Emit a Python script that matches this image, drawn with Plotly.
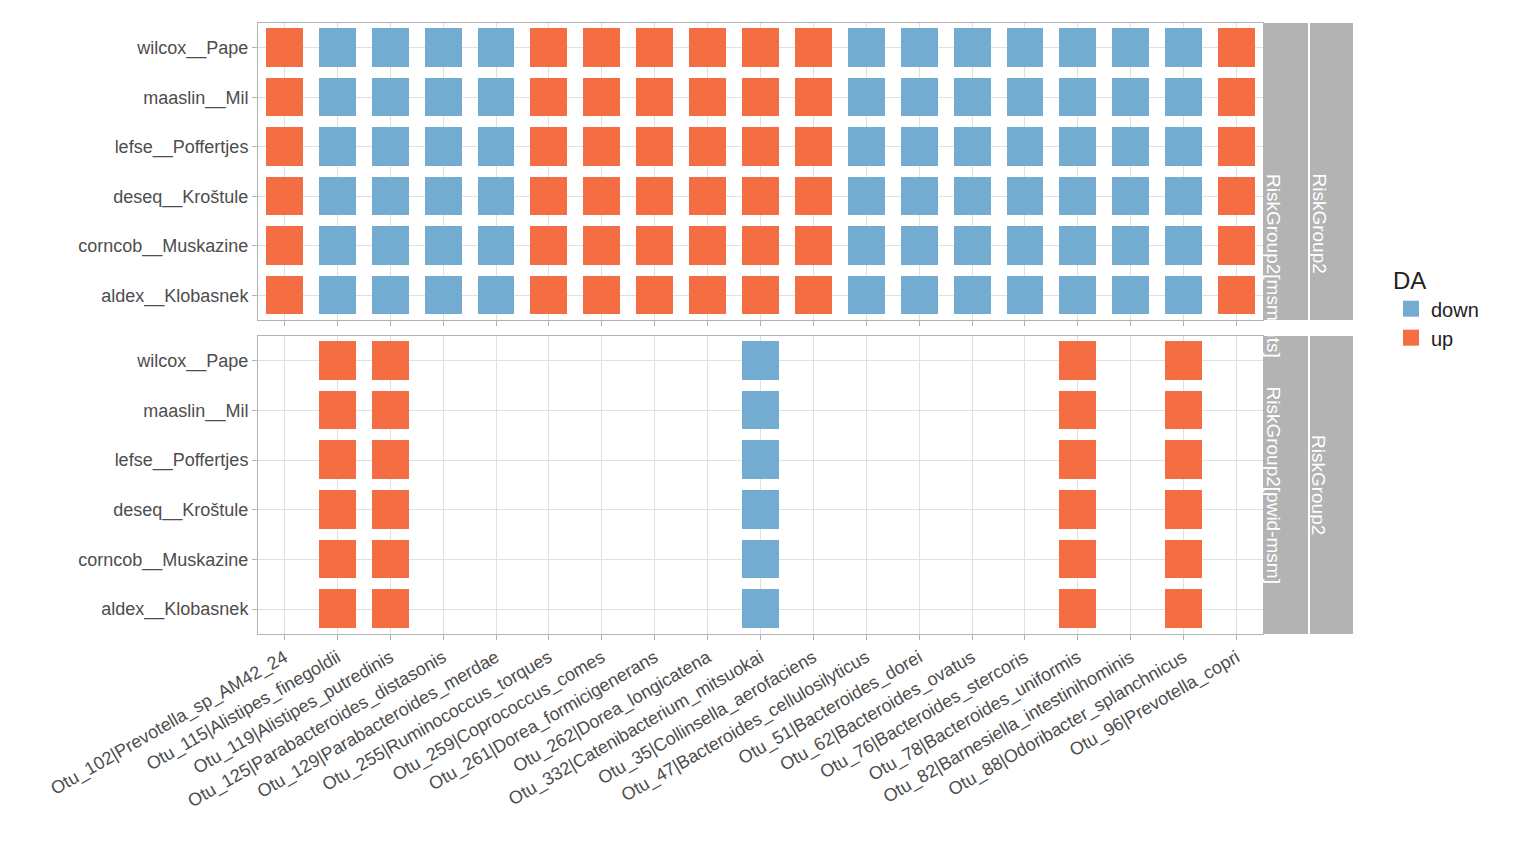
import plotly.graph_objects as go
from plotly.subplots import make_subplots

taxa = ["Otu_102|Prevotella_sp_AM42_24","Otu_115|Alistipes_finegoldii","Otu_119|Alistipes_putredinis",
"Otu_125|Parabacteroides_distasonis","Otu_129|Parabacteroides_merdae","Otu_255|Ruminococcus_torques",
"Otu_259|Coprococcus_comes","Otu_261|Dorea_formicigenerans","Otu_262|Dorea_longicatena",
"Otu_332|Catenibacterium_mitsuokai","Otu_35|Collinsella_aerofaciens","Otu_47|Bacteroides_cellulosilyticus",
"Otu_51|Bacteroides_dorei","Otu_62|Bacteroides_ovatus","Otu_76|Bacteroides_stercoris",
"Otu_78|Bacteroides_uniformis","Otu_82|Barnesiella_intestinihominis","Otu_88|Odoribacter_splanchnicus",
"Otu_96|Prevotella_copri"]
methods = ["aldex__Klobasnek","corncob__Muskazine","deseq__Kroštule","lefse__Poffertjes","maaslin__Mil","wilcox__Pape"]
top_da = ["up","down","down","down","down","up","up","up","up","up","up","down","down","down","down","down","down","down","up"]
bot_da = [None,"up","up",None,None,None,None,None,None,"down",None,None,None,None,None,"up",None,"up",None]
panels = ["RiskGroup2[msm-hts]","RiskGroup2[pwid-msm]"]
C_DOWN, C_UP = "#74ABD1", "#F46D43"

def zrow(da):
    return [None if d is None else (1 if d=="up" else 0) for d in da]

fig = make_subplots(rows=2, cols=1, shared_xaxes=True)
for r, da in enumerate([top_da, bot_da], start=1):
    fig.add_trace(go.Heatmap(x=taxa, y=methods, z=[zrow(da) for _ in methods],
        colorscale=[[0,C_DOWN],[0.5,C_DOWN],[0.5,C_UP],[1,C_UP]], zmin=0, zmax=1,
        showscale=False, xgap=16, ygap=11, hoverongaps=False), row=r, col=1)
for name, c in [("down",C_DOWN),("up",C_UP)]:
    fig.add_trace(go.Scatter(x=[None], y=[None], mode="markers", name=name,
        marker=dict(symbol="square", size=44, color=c)), row=1, col=1)

W, H = 1536, 865
x0, x1 = 250/W, 1255/W
dom = [(1-312/H, 1-15/H), (1-626/H, 1-328/H)]
ax = dict(showgrid=True, gridcolor="#e0e0e0", showline=True, mirror=True, linecolor="#b3b3b3",
          linewidth=1, ticks="outside", tickcolor="#b3b3b3", ticklen=5, automargin=False,
          tickfont=dict(size=18, color="#4d4d4d"), zeroline=False)
fig.update_layout(
    width=W, height=H, margin=dict(l=0,r=0,t=0,b=0, autoexpand=False), plot_bgcolor="white", paper_bgcolor="white",
    font=dict(family="Liberation Sans, Arial", color="#4d4d4d"),
    xaxis=dict(domain=[x0,x1], showticklabels=False, **ax),
    xaxis2=dict(domain=[x0,x1], tickangle=-30, **ax),
    yaxis=dict(domain=list(dom[0]), **ax),
    yaxis2=dict(domain=list(dom[1]), **ax),
    legend=dict(x=1383/W, y=1-250/H, xanchor="left", yanchor="top",
        title=dict(text="DA", font=dict(size=24, color="#222")), font=dict(size=20, color="#222"),
        itemsizing="trace", tracegroupgap=0),
)
for i, p in enumerate(panels):
    ylo, yhi = dom[i]
    for (a, b, txt) in [(1256/W, 1300/W, p), (1302/W, 1345/W, "RiskGroup2")]:
        fig.add_shape(type="rect", xref="paper", yref="paper", x0=a, x1=b, y0=ylo, y1=yhi,
                      fillcolor="#b3b3b3", line=dict(width=0))
        fig.add_annotation(xref="paper", yref="paper", x=(a+b)/2, y=(ylo+yhi)/2, text=txt,
                           textangle=90, showarrow=False, font=dict(size=19, color="white"))
fig.write_html("out.html")
